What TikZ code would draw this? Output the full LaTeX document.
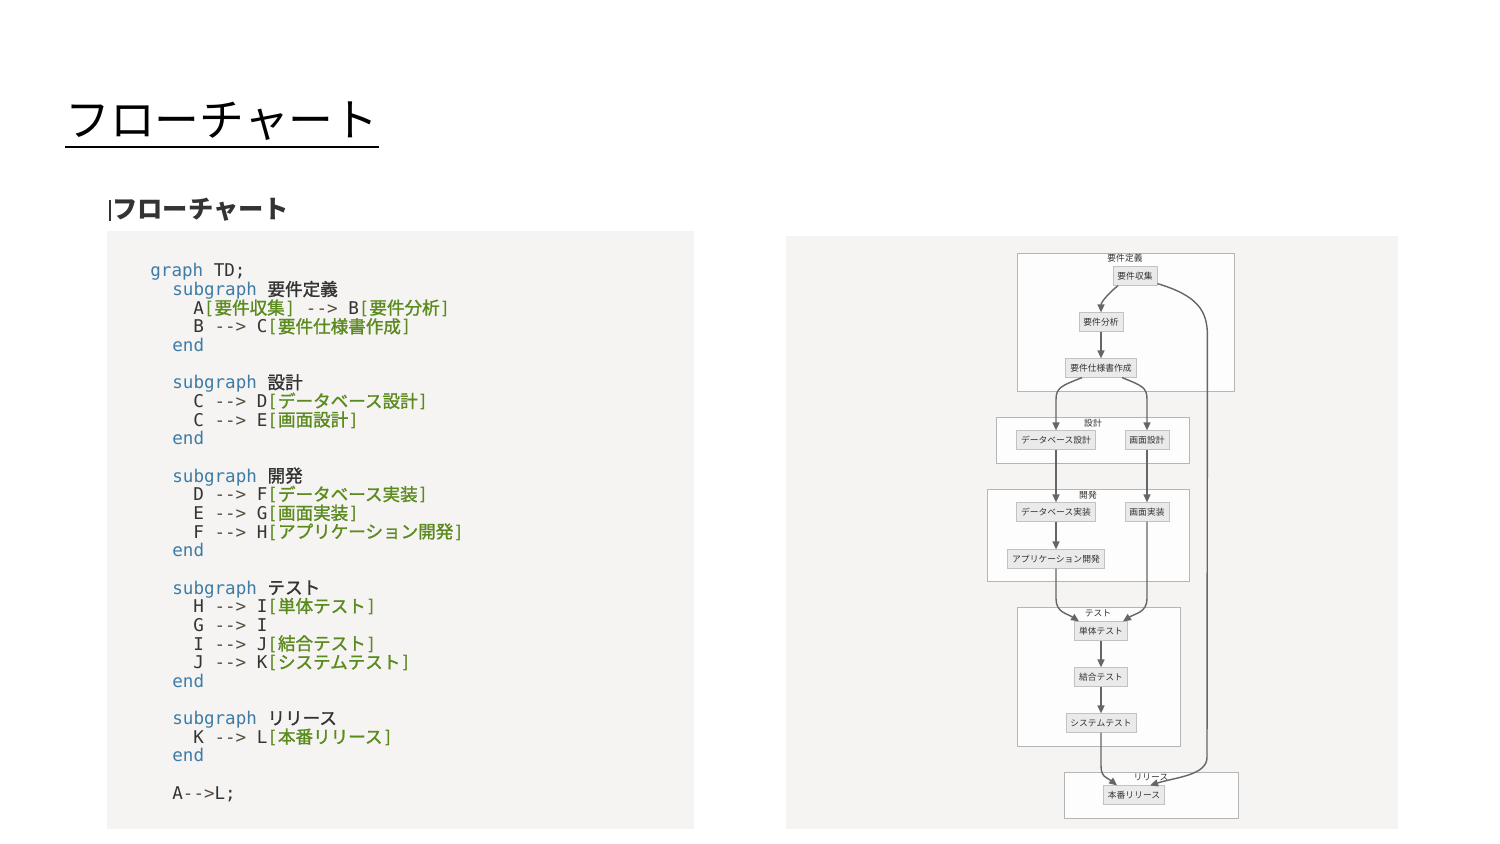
\documentclass[tikz,border=0pt]{standalone}
\usepackage{fontspec}
\setmainfont{Liberation Sans}
\setmonofont{DejaVu Sans Mono}
\newfontfamily\cjk{Noto Sans CJK JP}
\newfontfamily\cjkmed{Noto Sans CJK JP}[FakeBold=1.3]
\usetikzlibrary{arrows.meta,positioning,calc}

\definecolor{panelbg}{HTML}{F5F4F2}
\definecolor{kwblue}{HTML}{3E7CA6}
\definecolor{lblgreen}{HTML}{5B8A1F}
\definecolor{plaintxt}{HTML}{333333}
\definecolor{arrbrown}{HTML}{594B3E}
\definecolor{nodefill}{HTML}{EAEAEA}
\definecolor{nodeedge}{HTML}{C2C2C2}
\definecolor{sgfill}{HTML}{FDFDFD}
\definecolor{sgedge}{HTML}{B5B5B5}
\definecolor{edgegray}{HTML}{666666}

\newcommand\cdkw[1]{\textcolor{kwblue}{#1}}
\newcommand\cdlbl[1]{\textcolor{lblgreen}{[{\cjkmed #1}]}}
\newcommand\cdname[1]{{\cjkmed #1}}
\newcommand\cdarr{\textcolor{arrbrown}{-{}-{}>}}

\begin{document}
\begin{tikzpicture}[x=0.02cm,y=-0.02cm,
  code/.style={anchor=base west,inner sep=0,text=plaintxt,font=\ttfamily\fontsize{10}{12}\selectfont},
  fnode/.style={draw=nodeedge,fill=nodefill,font=\cjk\fontsize{5}{6}\selectfont,text=plaintxt,inner xsep=0.09cm,inner ysep=0,minimum height=0.37cm,line width=0.4pt},
  sgbox/.style={draw=sgedge,fill=sgfill,line width=0.5pt},
  sglbl/.style={font=\cjk\fontsize{5}{6}\selectfont,text=plaintxt,inner sep=0},
  edge/.style={draw=edgegray,line width=0.8pt,-{Triangle[length=0.16cm,width=0.14cm]}}]
\useasboundingbox[fill=white] (0,0) rectangle (1500,844);

\node[anchor=base west,inner sep=0,font=\cjk\fontsize{25.5}{30}\selectfont] (title) at (65,137) {フローチャート};
\draw[line width=1.7pt] (title.base west |- 0,147) -- (title.base east |- 0,147);

\fill[panelbg] (107,231) rectangle (694,829);
\fill[panelbg] (786,236) rectangle (1398,829);

\draw[plaintxt,line width=0.6pt] (110,200) -- (110,221);
\node[anchor=base west,inner sep=0,font=\cjk\bfseries\fontsize{14.4}{16}\selectfont,text=plaintxt] (head) at (112,219) {フローチャート};

\node[code] (l1) at (150,277.0) {\cdkw{graph} TD;};
\node[code] (l2) at (172,295.7) {\cdkw{subgraph} \cdname{要件定義}};
\node[code] (l3) at (193,314.3) {A\cdlbl{要件収集} \cdarr{} B\cdlbl{要件分析}};
\node[code] (l4) at (193,333.0) {B \cdarr{} C\cdlbl{要件仕様書作成}};
\node[code] (l5) at (172,351.6) {\cdkw{end}};
\node[code] (l6) at (172,388.9) {\cdkw{subgraph} \cdname{設計}};
\node[code] (l7) at (193,407.6) {C \cdarr{} D\cdlbl{データベース設計}};
\node[code] (l8) at (193,426.2) {C \cdarr{} E\cdlbl{画面設計}};
\node[code] (l9) at (172,444.9) {\cdkw{end}};
\node[code] (l10) at (172,482.2) {\cdkw{subgraph} \cdname{開発}};
\node[code] (l11) at (193,500.8) {D \cdarr{} F\cdlbl{データベース実装}};
\node[code] (l12) at (193,519.5) {E \cdarr{} G\cdlbl{画面実装}};
\node[code] (l13) at (193,538.1) {F \cdarr{} H\cdlbl{アプリケーション開発}};
\node[code] (l14) at (172,556.8) {\cdkw{end}};
\node[code] (l15) at (172,594.1) {\cdkw{subgraph} \cdname{テスト}};
\node[code] (l16) at (193,612.7) {H \cdarr{} I\cdlbl{単体テスト}};
\node[code] (l17) at (193,631.4) {G \cdarr{} I};
\node[code] (l18) at (193,650.0) {I \cdarr{} J\cdlbl{結合テスト}};
\node[code] (l19) at (193,668.7) {J \cdarr{} K\cdlbl{システムテスト}};
\node[code] (l20) at (172,687.3) {\cdkw{end}};
\node[code] (l21) at (172,724.6) {\cdkw{subgraph} \cdname{リリース}};
\node[code] (l22) at (193,743.3) {K \cdarr{} L\cdlbl{本番リリース}};
\node[code] (l23) at (172,761.9) {\cdkw{end}};
\node[code] (l24) at (172,799.2) {A\cdarr{}L;};

\draw[sgbox] (1017,253) rectangle (1234,391);
\draw[sgbox] (996,417) rectangle (1189,463);
\draw[sgbox] (987,489) rectangle (1189,581);
\draw[sgbox] (1017,607) rectangle (1180,746);
\draw[sgbox] (1064,772) rectangle (1238,818);
\node[sglbl] (tReq) at (1125,258) {要件定義};
\node[sglbl] (tDes) at (1093,423) {設計};
\node[sglbl] (tDev) at (1088,495) {開発};
\node[sglbl] (tTst) at (1098,613) {テスト};
\node[sglbl] (tRel) at (1151,777) {リリース};

\node[fnode] (nA) at (1135,276) {要件収集};
\node[fnode] (nB) at (1101,322) {要件分析};
\node[fnode] (nC) at (1101,368) {要件仕様書作成};
\node[fnode] (nD) at (1056,440) {データベース設計};
\node[fnode] (nE) at (1147,440) {画面設計};
\node[fnode] (nF) at (1056,512) {データベース実装};
\node[fnode] (nG) at (1147,512) {画面実装};
\node[fnode] (nH) at (1056,559) {アプリケーション開発};
\node[fnode] (nI) at (1101,631) {単体テスト};
\node[fnode] (nJ) at (1101,677) {結合テスト};
\node[fnode] (nK) at (1101,723) {システムテスト};
\node[fnode] (nL) at (1134,795) {本番リリース};

\draw[edge] ($(nA.south)+(-17,0)$) .. controls +(-10,8) and +(0,-10) .. (nB.north);
\draw[edge] (nB) -- (nC);
\draw[edge] ($(nC.south)+(-19,0)$) .. controls +(-20,8) and +(0,-12) .. ($(nD.north)+(0,-31)$) -- (nD.north);
\draw[edge] ($(nC.south)+(21,0)$) .. controls +(20,8) and +(0,-12) .. ($(nE.north)+(0,-31)$) -- (nE.north);
\draw[edge] (nD) -- (nF);
\draw[edge] (nE) -- (nG);
\draw[edge] (nF) -- (nH);
\draw[edge] (nH.south) -- ($(nH.south)+(0,30)$) .. controls +(0,14) and +(-12,-8) .. ($(nI.north)+(-22,0)$);
\draw[edge] (nG.south) -- ($(nG.south)+(0,77)$) .. controls +(0,14) and +(12,-8) .. ($(nI.north)+(22,0)$);
\draw[edge] (nI) -- (nJ);
\draw[edge] (nJ) -- (nK);
\draw[edge] (nK.south) -- ($(nK.south)+(0,33)$) .. controls +(0,12) and +(-10,-8) .. ($(nL.north)+(-17,0)$);
\draw[edge] ($(nA.south east)+(0,-2)$) .. controls +(40,12) and +(0,-25) .. ($(nA.south east)+(50,50)$) -- ($(nL.north)+(73,-28)$) .. controls +(0,18) and +(25,-8) .. ($(nL.north)+(16,0)$);
\end{tikzpicture}
\end{document}
